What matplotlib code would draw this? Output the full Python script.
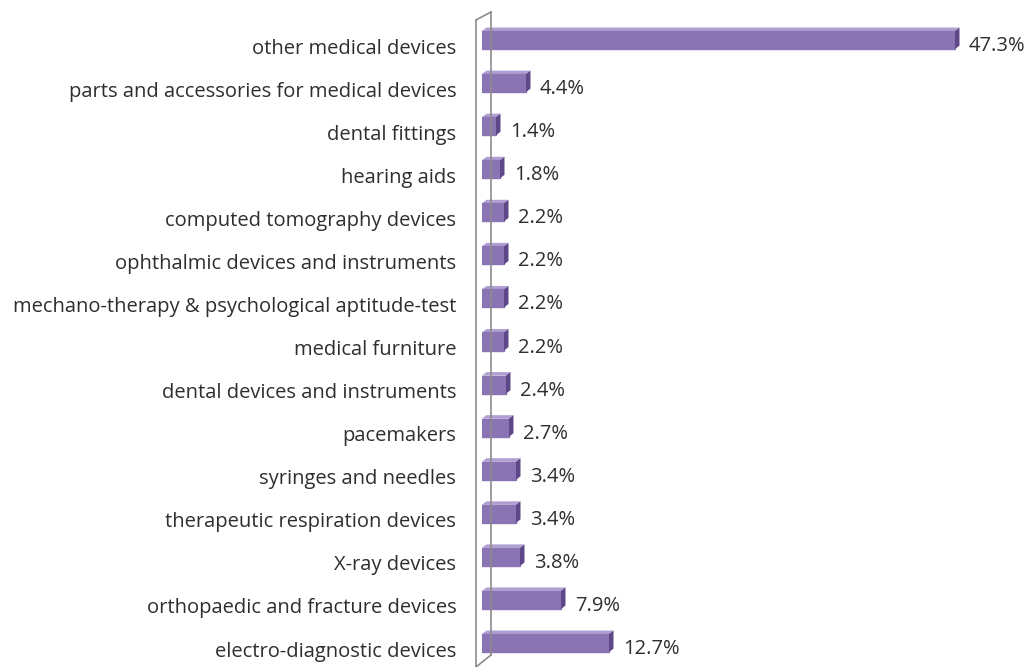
import matplotlib.pyplot as plt
from matplotlib.patches import Polygon
from matplotlib.lines import Line2D
from matplotlib.transforms import ScaledTranslation

categories = [
    "electro-diagnostic devices",
    "orthopaedic and fracture devices",
    "X-ray devices",
    "therapeutic respiration devices",
    "syringes and needles",
    "pacemakers",
    "dental devices and instruments",
    "medical furniture",
    "mechano-therapy & psychological aptitude-test",
    "ophthalmic devices and instruments",
    "computed tomography devices",
    "hearing aids",
    "dental fittings",
    "parts and accessories for medical devices",
    "other medical devices",
]
shares = [12.7, 7.9, 3.8, 3.4, 3.4, 2.7, 2.4, 2.2, 2.2, 2.2, 2.2, 1.8, 1.4, 4.4, 47.3]

FRONT = "#8a74b4"
TOP = "#b09fd2"
SIDE = "#5e4888"
TEXT = "#2e2e2e"
BAR_H = 0.42
DX, DY = 0.45, 0.08  # depth of the bar boxes in data units

plt.rcParams['font.family'] = ['Open Sans', 'DejaVu Sans']

fig = plt.figure(figsize=(10.26, 6.67), dpi=100)
ax = fig.add_axes([482 / 1026, 0, 540 / 1026, 1])
ax.set_xlim(0, 54)
ax.set_ylim(-0.557, 14.929)

ypos = list(range(len(categories)))
ax.barh(ypos, shares, height=BAR_H, color=FRONT, edgecolor=FRONT, zorder=3)

# text sits a few pixels below the bar centres
shift = ScaledTranslation(0, -0.06, fig.dpi_scale_trans)

# fake 3d: top and right faces of each bar
for y, v in zip(ypos, shares):
    top = y + BAR_H / 2
    bot = y - BAR_H / 2
    ax.add_patch(Polygon([(0, top), (v, top), (v + DX, top + DY), (DX, top + DY)],
                         closed=True, facecolor=TOP, edgecolor="none", zorder=2))
    ax.add_patch(Polygon([(v, bot), (v, top), (v + DX, top + DY), (v + DX, bot + DY)],
                         closed=True, facecolor=SIDE, edgecolor="none", zorder=4))
    ax.text(v + 1.4, y, f"{v}%", va="center", ha="left", fontsize=14.5,
            color=TEXT, transform=ax.transData + shift)

ax.set_yticks(ypos)
ax.set_yticklabels(categories, fontsize=14.5, color=TEXT)
ax.tick_params(axis="y", length=0, pad=18.5)
for lab in ax.get_yticklabels():
    lab.set_transform(lab.get_transform() + shift)
ax.set_xticks([])
for s in ax.spines.values():
    s.set_visible(False)

# thin back wall panel behind the bars
W, H = 1026, 667
wall = [((476, 20), (476, 667)), ((491, 12), (491, 655)),
        ((476, 20), (491, 12)), ((476, 667), (491, 655))]
for (x0, y0), (x1, y1) in wall:
    fig.add_artist(Line2D([x0 / W, x1 / W], [1 - y0 / H, 1 - y1 / H],
                          color="#8c8c8c", lw=1.2, zorder=1))

fig.savefig("out.png", dpi=100)
